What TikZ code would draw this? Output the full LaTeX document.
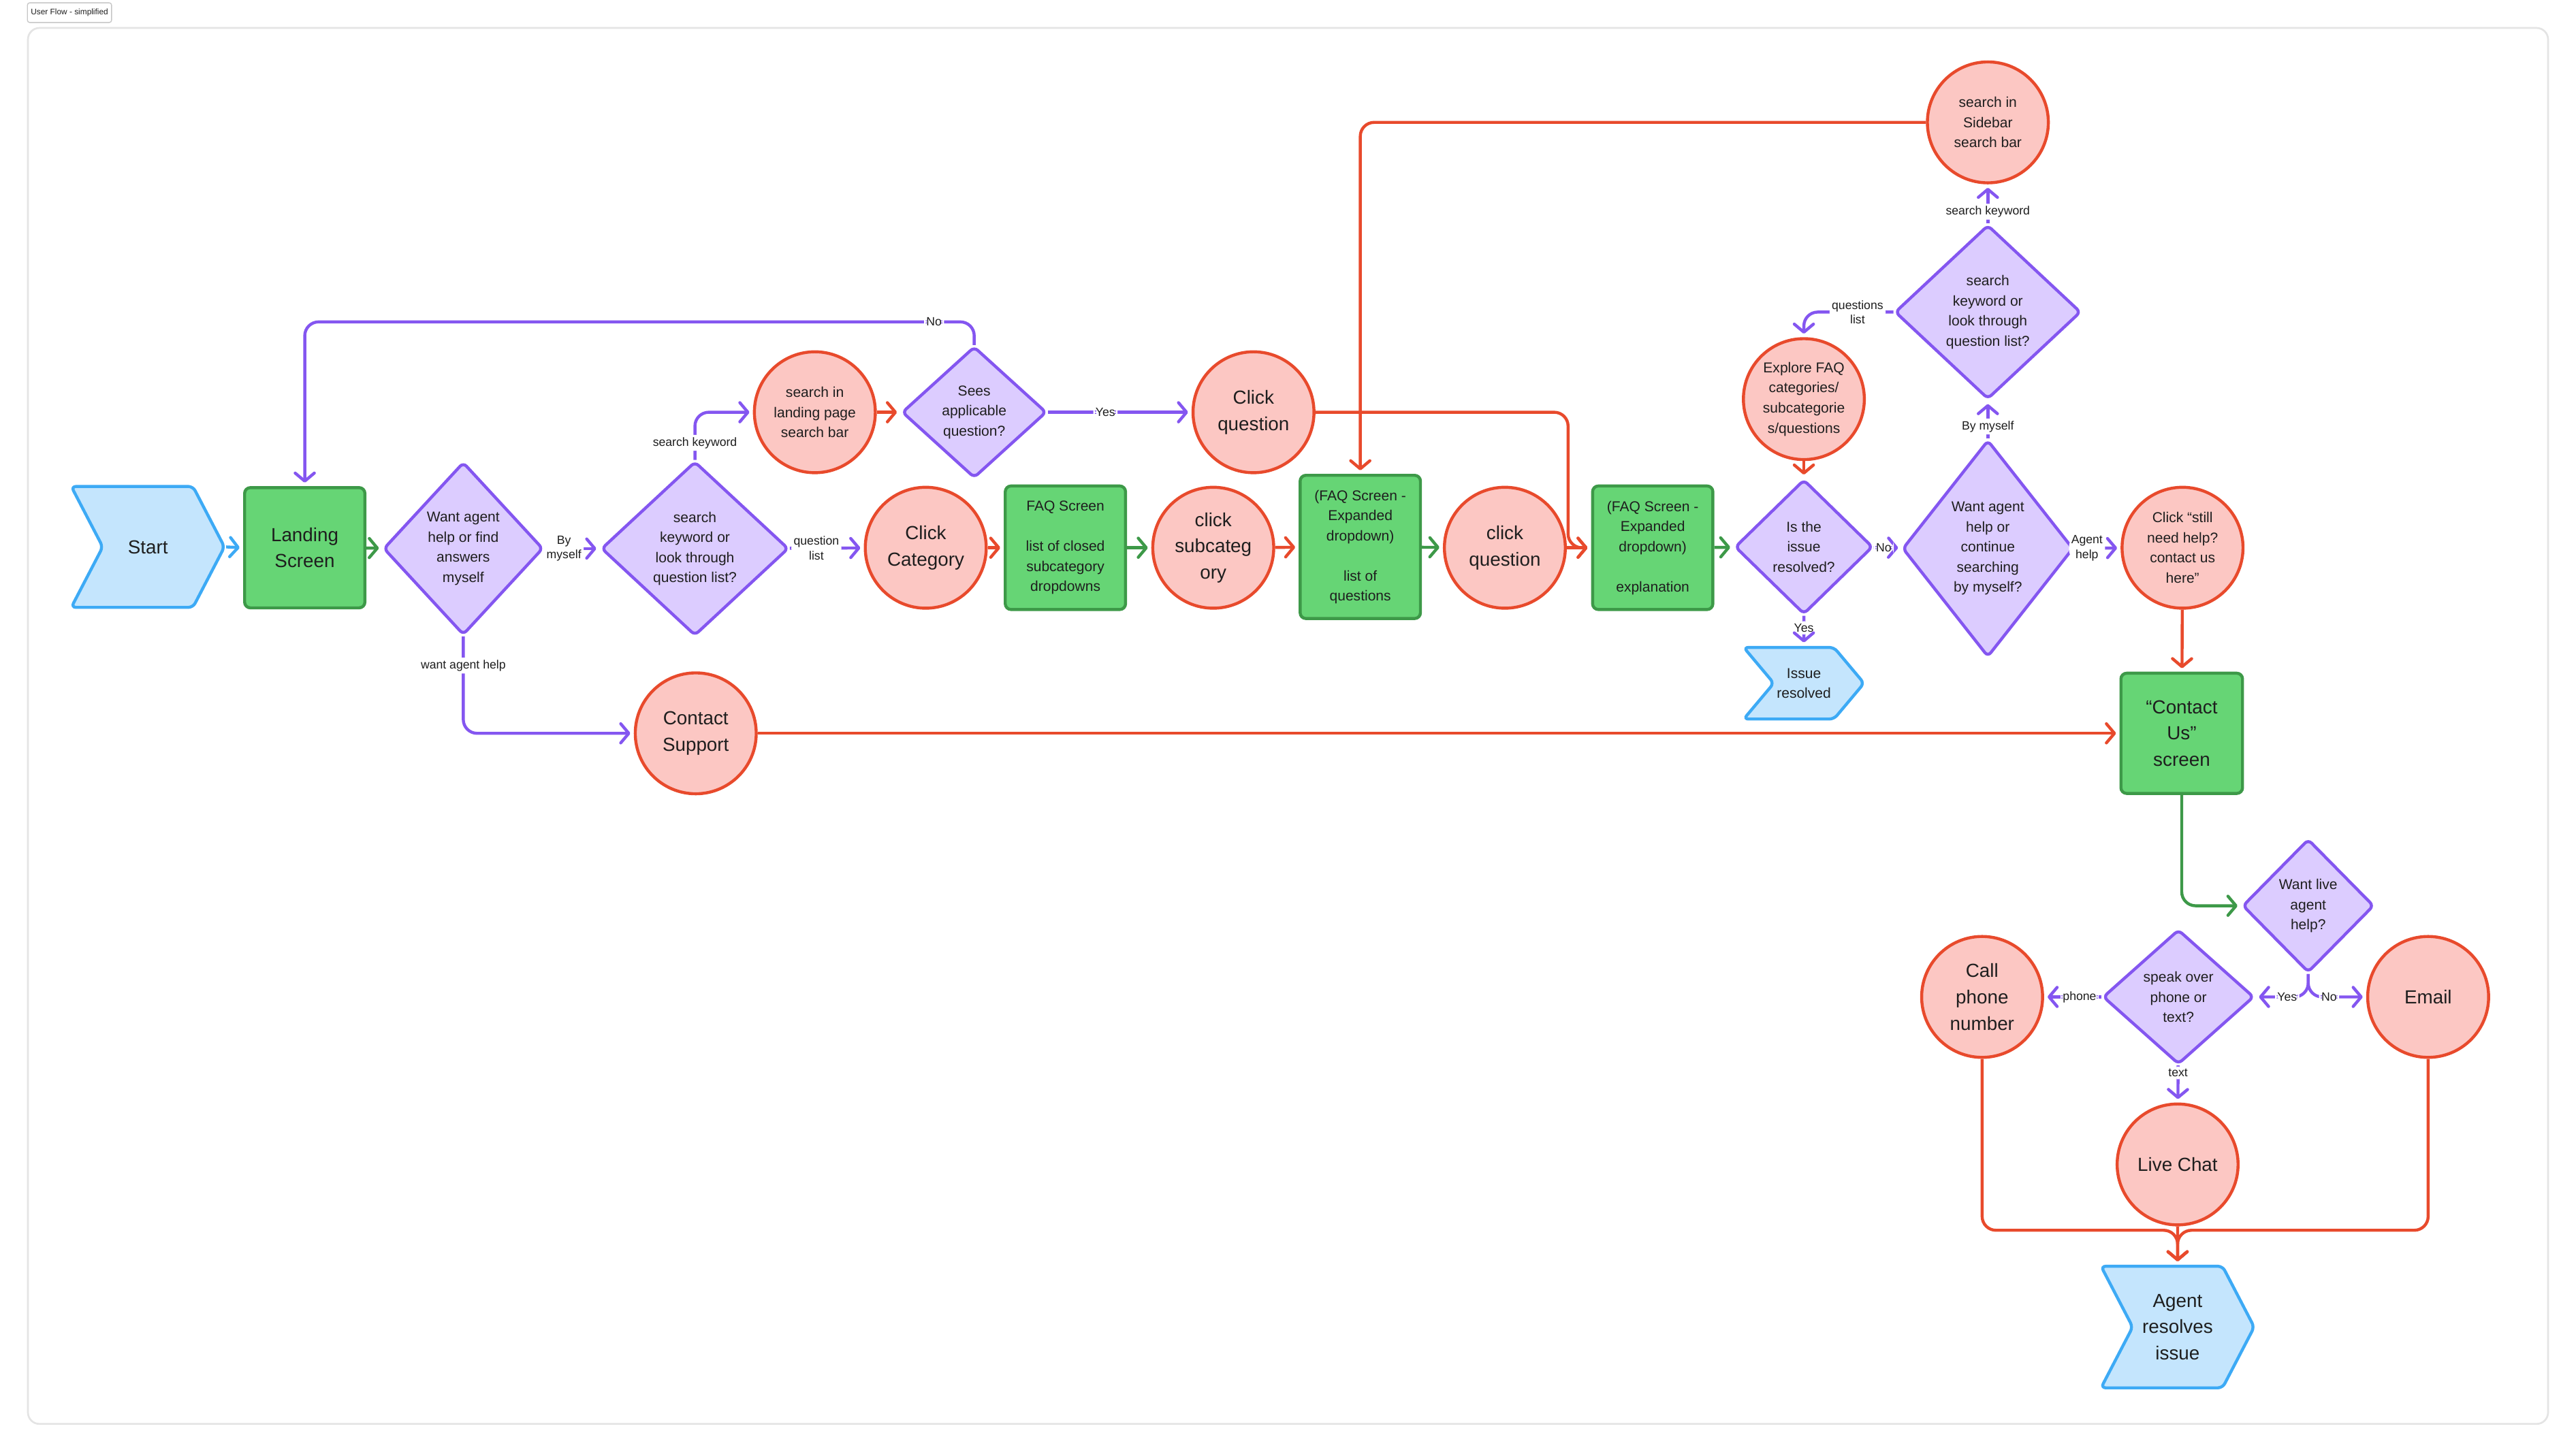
\documentclass[tikz,border=0pt]{standalone}
\usepackage{fontspec}
\setmainfont{Liberation Sans}
\usepackage{tikz}
\usetikzlibrary{positioning, arrows.meta, calc, shapes.geometric, shapes.symbols}
\definecolor{ScreenGreen}{HTML}{66D575}
\definecolor{ScreenEdge}{HTML}{3D9948}
\definecolor{ActPink}{HTML}{FCC7C3}
\definecolor{ActRed}{HTML}{E84A2C}
\definecolor{AskLilac}{HTML}{DCCCFF}
\definecolor{AskPurple}{HTML}{8456F0}
\definecolor{EndBlue}{HTML}{C4E5FD}
\definecolor{EndEdge}{HTML}{3DAAF5}
\definecolor{InkDark}{HTML}{1E1E1E}
\definecolor{FrameGrey}{HTML}{E4E4E4}
\tikzset{
  bigtxt/.style={font=\fontsize{8.2}{11.4}\selectfont},
  midtxt/.style={font=\fontsize{6.2}{8.7}\selectfont},
  screen/.style={draw=ScreenEdge, fill=ScreenGreen, line width=1.3pt, rounded corners=2.5pt,
    minimum width=1.83cm, minimum height=1.83cm, inner sep=1pt, align=center, midtxt},
  action/.style={circle, draw=ActRed, fill=ActPink, line width=1.3pt, minimum size=1.84cm,
    inner sep=0pt, align=center, midtxt},
  ask/.style={diamond, draw=AskPurple, fill=AskLilac, line width=1.3pt, rounded corners=2pt,
    inner sep=0pt, align=center, midtxt},
  ending/.style={signal, signal from=west, signal to=east, draw=EndEdge, fill=EndBlue,
    line width=1.3pt, rounded corners=2pt, inner sep=0pt, align=center},
  conn/.style={-{Straight Barb[length=3.5pt, width=8.3pt, round]}, line width=1.3pt,
    rounded corners=6pt, shorten >=1.5pt},
  parr/.style={conn, AskPurple},
  rarr/.style={conn, ActRed},
  garr/.style={conn, ScreenEdge},
  barr/.style={conn, EndEdge},
  lbl/.style={fill=white, text=InkDark, font=\fontsize{5.2}{6.3}\selectfont, inner sep=1pt, align=center},
}

\begin{document}
\begin{tikzpicture}[x=0.025cm, y=-0.025cm, text=InkDark]
  \useasboundingbox (0,0) rectangle (1568,884);
  \draw[FrameGrey, line width=0.8pt, rounded corners=5pt] (17,17) rectangle (1551,867);
  \node[draw=FrameGrey!70!gray, line width=0.4pt, rounded corners=1pt, minimum width=1.28cm,
    minimum height=0.3cm, inner sep=0pt, font=\fontsize{3.5}{4}\selectfont] (title) at (42.3,7.7) {User Flow - simplified};

  % main row
  \node[ending, bigtxt, minimum width=2.33cm, minimum height=1.84cm, signal pointer angle=125] (start) at (90,333) {Start};
  \node[screen, bigtxt] (landing) at (185.5,333.5) {Landing\\Screen};
  \node[ask, minimum width=2.43cm, minimum height=2.63cm] (want) at (282,334) {Want agent\\help or find\\answers\\myself};
  \node[ask, minimum width=2.85cm, minimum height=2.65cm] (kwd) at (423,334) {search\\keyword or\\look through\\question list?};
  \node[action] (lsearch) at (496,251) {search in\\landing page\\search bar};
  \node[ask, minimum width=2.2cm, minimum height=2.0cm] (sees) at (593,251) {Sees\\applicable\\question?};
  \node[action, bigtxt] (cq1) at (763,251) {Click\\question};
  \node[action, bigtxt] (ccat) at (563.5,333.5) {Click\\Category};
  \node[screen, minimum height=1.88cm] (faq1) at (648.5,333.5) {FAQ Screen\\[8.7pt]list of closed\\subcategory\\dropdowns};
  \node[action, bigtxt] (subcat) at (738.5,333.5) {click\\subcateg\\ory};
  \node[screen, minimum height=2.18cm] (exp1) at (828,333) {(FAQ Screen -\\Expanded\\dropdown)\\[8.7pt]list of\\questions};
  \node[action, bigtxt] (cq2) at (916,333.5) {click\\question};
  \node[screen, minimum height=1.88cm] (exp2) at (1006,333.5) {(FAQ Screen -\\Expanded\\dropdown)\\[8.7pt]explanation};
  \node[ask, minimum width=2.1cm, minimum height=2.05cm] (resolved) at (1098,333) {Is the\\issue\\resolved?};
  \node[ending, midtxt, minimum width=1.83cm, minimum height=1.09cm, signal pointer angle=100] (done) at (1098,416) {Issue\\resolved};

  % right side, searching again
  \node[action] (explore) at (1098,243) {Explore FAQ\\categories/\\subcategorie\\s/questions};
  \node[ask, minimum width=2.6cm, minimum height=3.3cm] (cont) at (1210,334) {Want agent\\help or\\continue\\searching\\by myself?};
  \node[ask, minimum width=2.83cm, minimum height=2.65cm] (kwd2) at (1210,190) {search\\keyword or\\look through\\question list?};
  \node[action] (side) at (1210,74.5) {search in\\Sidebar\\search bar};
  \node[action] (still) at (1328.5,333.5) {Click “still\\need help?\\contact us\\here”};

  % contact
  \node[screen, bigtxt, minimum width=1.85cm] (cus) at (1328,446.5) {“Contact\\Us”\\screen};
  \node[action, bigtxt] (csup) at (423.5,446.5) {Contact\\Support};
  \node[ask, minimum width=2.0cm, minimum height=2.03cm] (live) at (1405,551.5) {Want live\\agent\\help?};
  \node[ask, minimum width=2.3cm, minimum height=2.05cm] (speak) at (1326,607) {speak over\\phone or\\text?};
  \node[action, bigtxt] (call) at (1206.5,607) {Call\\phone\\number};
  \node[action, bigtxt] (email) at (1478,607) {Email};
  \node[action, bigtxt] (chat) at (1325.5,709) {Live Chat};
  \node[ending, bigtxt, minimum width=2.33cm, minimum height=1.85cm, signal pointer angle=125] (agent) at (1325.5,808) {Agent\\resolves\\issue};

  \coordinate (nocorner) at ($(landing.north)+(0,-100)$);
  \coordinate (merge) at ($(agent.north)+(0,-21)$);

  % connectors
  \draw[barr] (start.east) -- (landing.west);
  \draw[garr] (landing) -- (want);
  \draw[parr] (want) -- node[lbl, pos=0.35] {By\\myself} (kwd);
  \draw[parr] (kwd.north) |- node[lbl, pos=0.18] {search keyword} (lsearch.west);
  \draw[rarr] (lsearch) -- (sees);
  \draw[parr] (sees) -- node[lbl, pos=0.4] {Yes} (cq1);
  \draw[parr] (sees.north) |- node[lbl, pos=0.53] {No} (nocorner) -- (landing.north);
  \draw[parr] (kwd) -- node[lbl, pos=0.36] {question\\list} (ccat);
  \draw[rarr] (ccat) -- (faq1);
  \draw[garr] (faq1) -- (subcat);
  \draw[rarr] (subcat) -- (exp1);
  \draw[garr] (exp1) -- (cq2);
  \draw[rarr] (cq2) -- (exp2);
  \draw[rarr] (cq1.east) -| ($(exp2.west)+(-14,0)$) -- (exp2.west);
  \draw[garr] (exp2) -- (resolved);
  \draw[parr] (resolved) -- node[lbl, pos=0.4] {Yes} (done);
  \draw[parr] (resolved) -- node[lbl, pos=0.36] {No} (cont);
  \draw[rarr] (explore) -- (resolved);
  \draw[parr] (cont) -- node[lbl, pos=0.32] {By myself} (kwd2);
  \draw[parr] (kwd2) -- node[lbl, pos=0.3] {search keyword} (side);
  \draw[parr] (kwd2.west) -| node[lbl, pos=0.2] {questions\\list} (explore.north);
  \draw[rarr] (side.west) -| (exp1.north);
  \draw[parr] (cont) -- node[lbl, pos=0.27] {Agent\\help} (still);
  \draw[rarr] (still) -- (cus);
  \draw[parr] (want.south) |- node[lbl, pos=0.15] {want agent help} (csup.west);
  \draw[rarr] (csup) -- (cus);
  \draw[garr] (cus.south) |- (live.west);
  \draw[parr] (live.south) |- node[lbl, pos=0.7] {Yes} (speak.east);
  \draw[parr] (live.south) |- node[lbl, pos=0.68] {No} (email.west);
  \draw[parr] (speak) -- node[lbl, pos=0.38] {phone} (call);
  \draw[parr] (speak) -- node[lbl, pos=0.2] {text} (chat);
  \draw[rarr] (call.south) |- (merge) -- (agent.north);
  \draw[rarr] (email.south) |- (merge) -- (agent.north);
  \draw[rarr] (chat) -- (agent);
\end{tikzpicture}
\end{document}
